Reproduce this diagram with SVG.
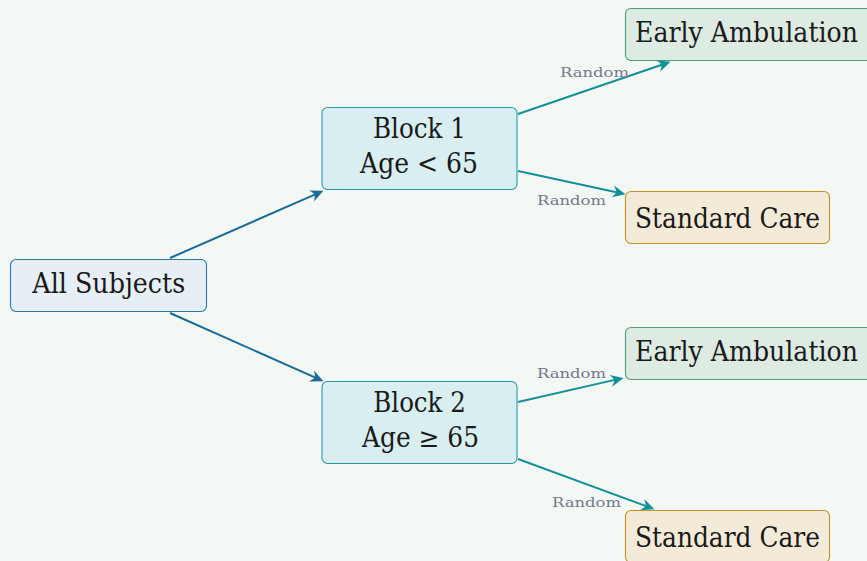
<svg xmlns="http://www.w3.org/2000/svg" width="867" height="561" viewBox="0 0 867 561">
  <style>
    .node { stroke-width: 1.1; }
    .root { fill: #e7eff6; stroke: #2b77a8; }
    .block { fill: #d8eef0; stroke: #2a9aa8; }
    .early { fill: #ddebe3; stroke: #4e9e78; }
    .std { fill: #f4ead8; stroke: #c8901e; }
    .lbl { font-family: "DejaVu Serif", "Liberation Serif", "Times New Roman", serif; font-size: 27px; fill: #1a1a1a; }
    .edge { fill: none; stroke-width: 2; }
    .e1 { stroke: #1a6a9a; }
    .e2 { stroke: #13909a; }
    .tag { font-family: "DejaVu Serif", "Liberation Serif", serif; font-size: 13px; fill: #727a8c; }
  </style>
  <defs>
    <marker id="arrowBlue" markerUnits="userSpaceOnUse" viewBox="-10 -7 16 14" markerWidth="16" markerHeight="14" refX="0" refY="0" orient="auto">
      <path d="M4.5,0 L-8.5,-6 Q-5,-1.4 -5,0 Q-5,1.4 -8.5,6 Z" fill="#1a6a9a"/>
    </marker>
    <marker id="arrowTeal" markerUnits="userSpaceOnUse" viewBox="-10 -7 16 14" markerWidth="16" markerHeight="14" refX="0" refY="0" orient="auto">
      <path d="M4.5,0 L-8.5,-6 Q-5,-1.4 -5,0 Q-5,1.4 -8.5,6 Z" fill="#13909a"/>
    </marker>
  </defs>

  <rect x="0" y="0" width="867" height="561" fill="#f3f8f4"/>

  <!-- connectors -->
  <g id="connectors">
    <path class="edge e1" d="M170,258 L319.3,192.6" marker-end="url(#arrowBlue)"/>
    <path class="edge e1" d="M170,313 L319.3,379.4" marker-end="url(#arrowBlue)"/>
    <path class="edge e2" d="M518,114 L666.2,63.3" marker-end="url(#arrowTeal)"/>
    <path class="edge e2" d="M518,171 L621.1,193.2" marker-end="url(#arrowTeal)"/>
    <path class="edge e2" d="M518,402 L619.1,378.9" marker-end="url(#arrowTeal)"/>
    <path class="edge e2" d="M518,459 L650.2,507.6" marker-end="url(#arrowTeal)"/>
    <text class="tag" x="560" y="77" textLength="69" lengthAdjust="spacingAndGlyphs">Random</text>
    <text class="tag" x="537" y="205" textLength="69" lengthAdjust="spacingAndGlyphs">Random</text>
    <text class="tag" x="537" y="378" textLength="69" lengthAdjust="spacingAndGlyphs">Random</text>
    <text class="tag" x="552" y="507" textLength="69" lengthAdjust="spacingAndGlyphs">Random</text>
  </g>

  <!-- nodes -->
  <g id="all-subjects">
    <rect class="node root" x="10.5" y="259.5" width="196" height="52" rx="5.5"/>
    <text class="lbl" x="32.3" y="293" textLength="153" lengthAdjust="spacingAndGlyphs">All Subjects</text>
  </g>

  <g id="block-1">
    <rect class="node block" x="322" y="107.5" width="195" height="82" rx="5.5"/>
    <text class="lbl" x="373" y="137.5" textLength="93" lengthAdjust="spacingAndGlyphs">Block 1</text>
    <text class="lbl" x="360" y="173" textLength="118" lengthAdjust="spacingAndGlyphs">Age &lt; 65</text>
  </g>

  <g id="block-2">
    <rect class="node block" x="322" y="381.5" width="195" height="82" rx="5.5"/>
    <text class="lbl" x="373.3" y="412" textLength="92.5" lengthAdjust="spacingAndGlyphs">Block 2</text>
    <text class="lbl" x="362" y="447" textLength="117" lengthAdjust="spacingAndGlyphs">Age ≥ 65</text>
  </g>

  <g id="early-ambulation-1">
    <rect class="node early" x="625.5" y="8.5" width="250" height="52" rx="5.5"/>
    <text class="lbl" x="635" y="42" textLength="223" lengthAdjust="spacingAndGlyphs">Early Ambulation</text>
  </g>

  <g id="standard-care-1">
    <rect class="node std" x="625.5" y="191.5" width="204" height="52" rx="5.5"/>
    <text class="lbl" x="635" y="228" textLength="185" lengthAdjust="spacingAndGlyphs">Standard Care</text>
  </g>

  <g id="early-ambulation-2">
    <rect class="node early" x="625.5" y="327.5" width="250" height="52" rx="5.5"/>
    <text class="lbl" x="635" y="361" textLength="223" lengthAdjust="spacingAndGlyphs">Early Ambulation</text>
  </g>

  <g id="standard-care-2">
    <rect class="node std" x="625.5" y="510.5" width="204" height="52" rx="5.5"/>
    <text class="lbl" x="635" y="547" textLength="185" lengthAdjust="spacingAndGlyphs">Standard Care</text>
  </g>
</svg>
